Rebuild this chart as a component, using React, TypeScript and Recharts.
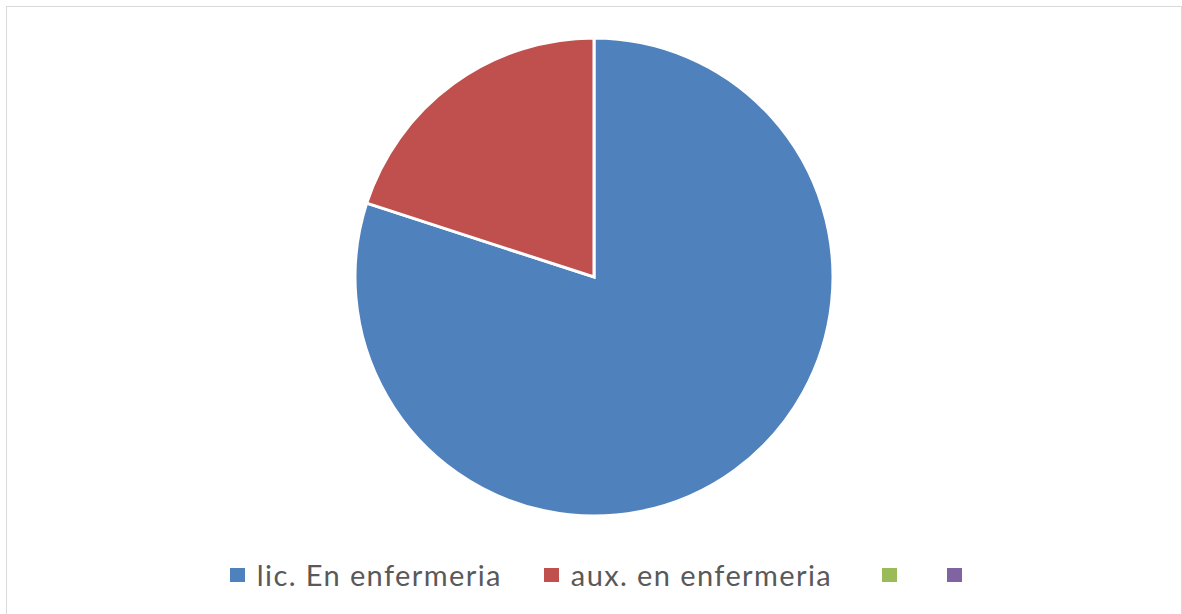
import { PieChart, Pie, Cell, Legend } from "recharts";

// ── DATA ──────────────────────────────────────────────────────
const CATEGORIES = ["lic. En enfermeria", "aux. en enfermeria", "", ""];
const VALUES = [80, 20, 0, 0];
const COLORS = ["#4F81BD", "#C0504D", "#9BBB59", "#8064A2"];

const data = CATEGORIES.map((name, i) => ({ name, value: VALUES[i] }));

// gaps after each legend entry (last one has none)
const GAPS = [42, 50, 50, 0];

// ── LEGEND ────────────────────────────────────────────────────
const BottomLegend = () => (
    <div style={{ display: "flex", justifyContent: "center", alignItems: "center", fontFamily: "Lato, sans-serif", fontSize: 29, letterSpacing: 1.4, color: "#595959", paddingLeft: 4 }}>
        {CATEGORIES.map((name, i) => (
            <div key={i} style={{ display: "flex", alignItems: "center", marginRight: GAPS[i] }}>
                <span style={{ width: 15, height: 14, background: COLORS[i], display: "inline-block", marginRight: name ? 12 : 0 }} />
                {name && <span>{name}</span>}
            </div>
        ))}
    </div>
);

export default function App() {
    return (
        <div style={{ position: "absolute", left: 6, top: 6, width: 1176, height: 612, border: "1px solid #d9d9d9", background: "#fff", boxSizing: "border-box" }}>
            <PieChart width={1174} height={610} margin={{ top: 0, right: 0, bottom: 0, left: 0 }}>
                <Pie
                    data={data}
                    dataKey="value"
                    nameKey="name"
                    cx={587} cy={270}
                    outerRadius={239}
                    startAngle={90} endAngle={-270}
                    stroke="#fff" strokeWidth={3}
                    isAnimationActive={false}
                >
                    {data.map((_, i) => (
                        <Cell key={i} fill={COLORS[i]} />
                    ))}
                </Pie>
                <Legend
                    verticalAlign="bottom"
                    wrapperStyle={{ bottom: 25 }}
                    content={() => <BottomLegend />}
                />
            </PieChart>
        </div>
    );
}
